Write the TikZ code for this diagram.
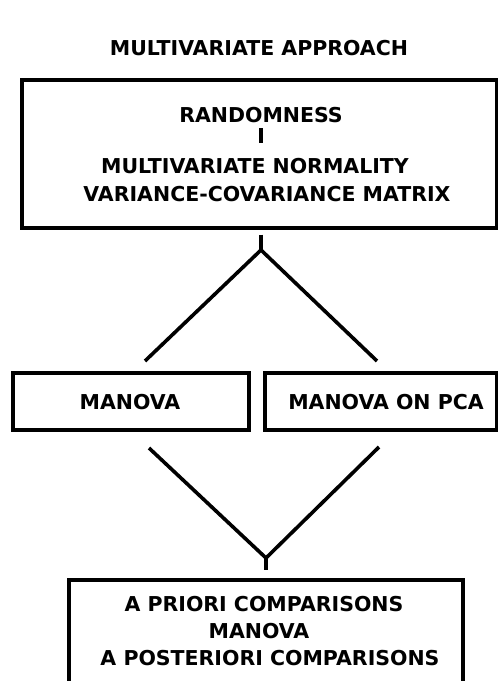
\documentclass[tikz,border=0pt]{standalone}
\usepackage{fontspec}
\setmainfont{DejaVu Sans}
\begin{document}
\begin{tikzpicture}[x=1pt,y=-1pt,
  box/.style={draw,line width=3.2pt,inner sep=0pt},
  lbl/.style={font=\bfseries\fontsize{20.5}{20.5}\selectfont,inner sep=0pt,anchor=center},
  conn/.style={line width=3.6pt}]
\useasboundingbox (0,0) rectangle (498,681);
% title
\node[lbl,font=\fontsize{20.5}{20.5}\selectfont\bfseries] (title) at (259,48) {MULTIVARIATE APPROACH};
% top box
\node[box,minimum width=475pt,minimum height=148pt] (top) at (259.5,154) {};
\node[lbl] (rand) at (261,115) {RANDOMNESS};
\node[lbl] (mvn) at (255,166) {MULTIVARIATE NORMALITY};
\node[lbl] (vcm) at (267,194) {VARIANCE-COVARIANCE MATRIX};
\draw[line width=3.4pt] (261,128) -- (261,143);
% middle boxes
\node[box,minimum width=236pt,minimum height=57pt] (man) at (131,401.5) {};
\node[lbl] at (130,402) {MANOVA};
\node[box,minimum width=232pt,minimum height=57pt] (pca) at (381,401.5) {};
\node[lbl] at (386,402) {MANOVA ON PCA};
% bottom box (cut off by the page edge)
\node[box,minimum width=394pt,minimum height=130pt] (bot) at (266,645) {};
\node[lbl] (apc) at (264,604) {A PRIORI COMPARISONS};
\node[lbl] (bman) at (259,631) {MANOVA};
\node[lbl] (ppc) at (270,658) {A POSTERIORI COMPARISONS};
% connectors
\coordinate (apex) at (261,250);
\coordinate (l1) at (145,361);
\coordinate (r1) at (377,361);
\coordinate (l2) at (149,448);
\coordinate (r2) at (379,447);
\coordinate (vee) at (266,558);
\draw[conn] ([yshift=-5pt]top.south -| apex) -- (apex);
\draw[conn] (l1) -- (apex) -- (r1);
\draw[conn] (l2) -- (vee) -- (r2);
\draw[conn] (vee) -- ([yshift=8pt]bot.north -| vee);
\end{tikzpicture}
\end{document}
